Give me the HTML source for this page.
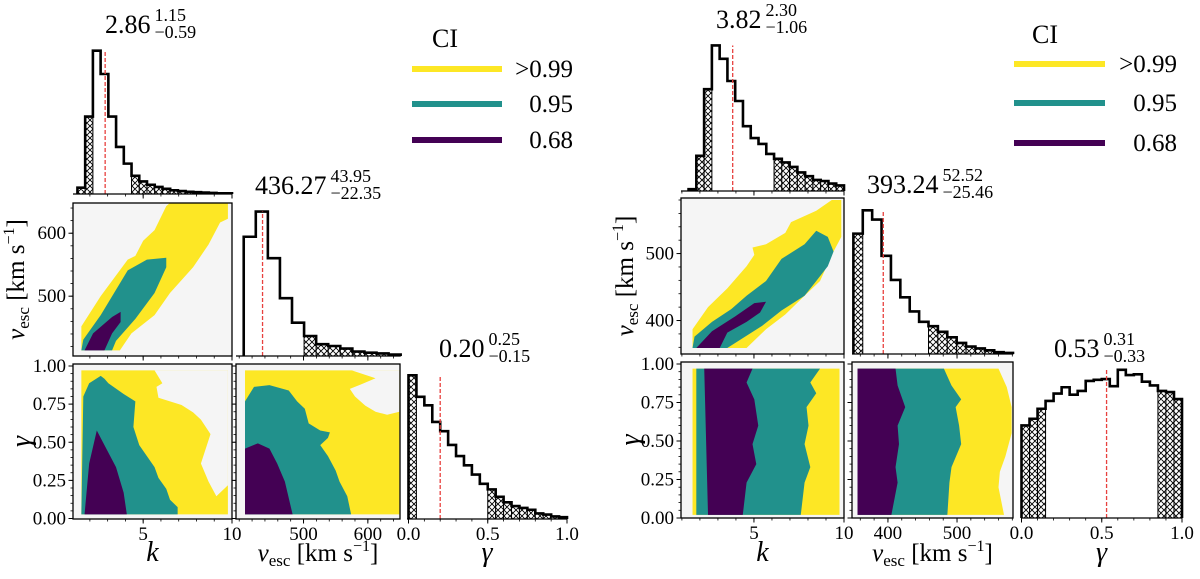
<!DOCTYPE html>
<html><head><meta charset="utf-8"><style>
html,body{margin:0;padding:0;background:#fff;width:1200px;height:579px;overflow:hidden}
svg{display:block}
svg text{font-family:"Liberation Serif","DejaVu Serif",serif}
</style></head><body>
<svg id="fig" width="1200" height="579" viewBox="0 0 1200 579" xmlns="http://www.w3.org/2000/svg" font-family="Liberation Serif, DejaVu Serif, serif">
<defs>
<pattern id="hatch" patternUnits="userSpaceOnUse" width="6" height="6">
<rect width="6" height="6" fill="#fff"/>
<path d="M0,0L6,6M6,0L0,6M-1,5L1,7M5,-1L7,1M-1,1L1,-1M5,7L7,5" stroke="#000" stroke-width="0.9"/>
</pattern>
</defs>
</svg>
<script>
// ---------- DATA ----------
const leftKCounts=[17,209,387,324,209,127,82,49,34,25,19,14,10,8,6,5,4,3,2,2];
const leftKRange=[1.3,10.0];
const leftKStats=[2.86,1.15,0.59];
const leftKHatch=[2.17,4.34];
const leftVCounts=[322,390,264,156,90,54,32,27,20,12,9,7,4];
const leftVRange=[407,651];
const leftVStats=[436.27,43.95,22.35];
const leftVHatch=[407,499];
const leftGCounts=[388,330,307,262,237,200,170,145,120,95,80,60,45,35,30,25,15,12,7,5];
const leftGRange=[0,1];
const leftGStats=[0.20,0.25,0.15];
const leftGHatch=[0.05,0.5];

const rightKCounts=[5,95,275,393,357,297,243,175,143,127,100,87,77,65,50,40,30,27,20,15];
const rightKRange=[1.37,10.0];
const rightKStats=[3.82,2.30,1.06];
const rightKHatch=[2.66,6.12];
const rightVCounts=[325,388,363,265,200,153,115,87,75,60,45,30,20,15,10,5,3];
const rightVRange=[350,581];
const rightVStats=[393.24,52.52,25.46];
const rightVHatch=[363.6,458.7];
const rightGCounts=[250,268,295,316,336,353,333,343,370,373,375,356,400,386,388,368,358,343,340,321];
const rightGRange=[0,1];
const rightGStats=[0.53,0.31,0.33];
const rightGHatch=[0.15,0.85];

// contour regions (data units)
const leftKVYellow=[[1.52,414],[1.52,452],[2.61,500],[4.13,558],[4.56,564],[5.0,588],[5.64,605],[6.3,643],[6.5,648],[9.77,648],[9.77,623],[9.33,617],[8.68,582],[7.81,546],[6.51,505],[5.64,470],[4.34,441],[3.69,414]];
const leftKVTeal=[[1.52,414],[1.63,431],[2.61,470],[4.13,541],[5.21,558],[6.3,561],[6.3,546],[5.64,505],[4.56,464],[3.47,429],[3.25,414]];
const leftKVPurple=[[1.70,414],[2.18,441],[3.25,467],[3.73,475],[3.73,459],[3.25,441],[2.82,414]];
const leftKGYellow=[[1.52,0.027],[1.52,0.971],[9.77,0.971],[9.77,0.027]];
const leftKGGray=[[5.64,0.971],[9.77,0.971],[9.77,0.218],[9.12,0.146],[8.68,0.242],[8.25,0.361],[8.79,0.553],[8.25,0.648],[7.81,0.696],[7.16,0.744],[6.51,0.768],[5.86,0.792],[5.75,0.863],[6.08,0.887]];
const leftKGTeal=[[1.52,0.027],[1.63,0.8],[1.96,0.887],[2.61,0.935],[2.82,0.916],[3.04,0.887],[3.9,0.816],[4.56,0.768],[4.45,0.6],[4.78,0.481],[5.21,0.409],[5.64,0.337],[5.86,0.266],[6.3,0.194],[6.51,0.123],[6.94,0.075],[6.94,0.027]];
const leftKGPurple=[[1.70,0.027],[1.96,0.361],[2.39,0.577],[2.82,0.481],[3.47,0.337],[3.9,0.17],[4.08,0.027]];
const leftVGYellow=[[409,0.027],[409,0.971],[649,0.971],[649,0.027]];
const leftVGGray=[[575,0.971],[649,0.971],[649,0.70],[630,0.68],[612,0.70],[596,0.74],[580,0.80],[572,0.85],[590,0.88],[612,0.92]];
const leftVGTeal=[[409,0.027],[409,0.768],[423,0.863],[447,0.875],[477,0.839],[490,0.768],[502,0.72],[508,0.624],[526,0.577],[541,0.565],[538,0.529],[526,0.481],[538,0.409],[550,0.314],[556,0.242],[568,0.146],[574,0.027]];
const leftVGPurple=[[409,0.027],[409,0.458],[429,0.493],[447,0.458],[459,0.361],[471,0.242],[483,0.027]];

const rightKVYellow=[[1.59,359],[1.59,387],[2.45,420],[3.52,448],[4.59,481],[5.02,498],[4.92,509],[5.67,514],[6.74,531],[7.06,547],[8.46,564],[9.32,580],[9.85,580],[9.85,525],[9.32,498],[8.67,459],[7.81,437],[6.74,409],[5.67,387],[4.59,359]];
const rightKVTeal=[[1.59,359],[1.7,376],[2.67,398],[3.74,417],[4.59,437],[5.67,459],[6.53,492],[7.81,514],[8.46,534],[9.1,525],[9.42,503],[9.1,481],[8.46,459],[7.81,437],[6.53,415],[5.45,392],[3.52,359]];
const rightKVPurple=[[1.8,359],[2.67,384],[3.95,406],[5.02,426],[5.67,428],[5.34,412],[4.59,398],[3.52,382],[3.1,359]];
const rightKGYellow=[[1.59,0.02],[1.59,0.97],[9.75,0.97],[9.75,0.02]];
const rightKGTeal=[[1.8,0.02],[1.8,0.97],[8.67,0.97],[8.13,0.88],[8.46,0.81],[7.92,0.72],[8.03,0.6],[7.81,0.48],[8.13,0.33],[7.81,0.23],[7.6,0.02]];
const rightKGPurple=[[2.45,0.02],[2.24,0.97],[4.92,0.97],[4.59,0.88],[5.02,0.77],[5.24,0.6],[4.92,0.48],[5.13,0.35],[4.59,0.23],[4.38,0.02]];
const rightVGYellow=[[356,0.02],[356,0.97],[560,0.97],[572,0.85],[579,0.72],[579,0.55],[570,0.40],[562,0.30],[560,0.2],[568,0.02]];
const rightVGTeal=[[356,0.02],[356,0.97],[481,0.97],[492,0.86],[506,0.77],[498,0.72],[503,0.6],[506,0.48],[492,0.33],[489,0.23],[486,0.02]];
const rightVGPurple=[[356,0.02],[356,0.97],[411,0.97],[414,0.86],[425,0.72],[414,0.6],[416,0.48],[411,0.33],[414,0.23],[405,0.02]];

const legendLabels=[">0.99","0.95","0.68"];
const kTicks=[5,10];
const leftVTicks=[500,600];
const rightVTicks=[400,500];
const gYTicks=["0.00","0.25","0.50","0.75","1.00"];
const gXTicks=["0.0","0.5","1.0"];

// ---------- DRAWING ----------
const NS="http://www.w3.org/2000/svg";
const svg=document.getElementById('fig');
const YEL="#fde725",TEAL="#21918c",PUR="#440154",BG="#f5f5f5";
const FF="Liberation Serif, DejaVu Serif, serif";
function mk(tag,attrs,parent){const e=document.createElementNS(NS,tag);for(const k in attrs)e.setAttribute(k,attrs[k]);if(tag==='text')e.setAttribute('font-family',FF);(parent||svg).appendChild(e);return e;}
function lin(d0,d1,r0,r1){return v=>r0+(v-d0)/(d1-d0)*(r1-r0);}

function histogram(g,counts,range,stats,hatch,xs,base,scaleDiv,name){
  const n=counts.length,w=(range[1]-range[0])/n;
  const y=c=>base-c/scaleDiv;
  counts.forEach((c,i)=>{
    const lo=range[0]+i*w,hi=lo+w,ctr=(lo+hi)/2;
    if(ctr<hatch[0]||ctr>hatch[1]){
      const r=mk('rect',{x:xs(lo),y:y(c),width:xs(hi)-xs(lo),height:base-y(c),fill:'url(#hatch)',stroke:'#000','stroke-width':1},g);
      
      
    }
  });
  let d='M'+xs(range[0])+','+base;
  counts.forEach((c,i)=>{const lo=range[0]+i*w,hi=lo+w;d+='L'+xs(lo)+','+y(c)+'L'+xs(hi)+','+y(c);});
  d+='L'+xs(range[1])+','+base;
  const p=mk('path',{d:d,fill:'none',stroke:'#000','stroke-width':2.6,'stroke-linejoin':'miter'},g);
  
  
  const mx=Math.max(...counts);
  const ml=mk('line',{x1:xs(stats[0]),x2:xs(stats[0]),y1:base,y2:y(mx),stroke:'#e8413e','stroke-width':1.3,'stroke-dasharray':'4,2'},g);
  
  
}
function poly(g,pts,xs,ys,fill,name){
  const p=mk('polygon',{points:pts.map(q=>xs(q[0])+','+ys(q[1])).join(' '),fill:fill},g);
  
  
}
function panelBox(g,x0,x1,y0,y1,name){
  const r=mk('rect',{x:x0,y:y0,width:x1-x0,height:y1-y0,fill:BG,stroke:'none'},g);
  
  
}
function frame(g,x0,x1,y0,y1){mk('rect',{x:x0,y:y0,width:x1-x0,height:y1-y0,fill:'none',stroke:'#000','stroke-width':1.3},g);}
function xTicks(g,xs,y,major,minorStep,d0,d1,labels,fs){
  for(let v=Math.ceil(d0/minorStep)*minorStep;v<=d1+1e-9;v+=minorStep){mk('line',{x1:xs(v),x2:xs(v),y1:y,y2:y+2.5,stroke:'#000','stroke-width':0.8},g);}
  major.forEach((v,i)=>{const val=+v;mk('line',{x1:xs(val),x2:xs(val),y1:y,y2:y+4.5,stroke:'#000','stroke-width':1},g);
    if(labels){const t=mk('text',{x:xs(val),y:y+21,'font-size':fs||19,'text-anchor':'middle'},g);t.textContent=String(v);
      
      }});
}
function yTicks(g,ys,x,major,minorStep,d0,d1,labels){
  for(let v=Math.ceil(d0/minorStep)*minorStep;v<=d1+1e-9;v+=minorStep){mk('line',{x1:x,x2:x-2.5,y1:ys(v),y2:ys(v),stroke:'#000','stroke-width':0.8},g);}
  major.forEach(v=>{const val=+v;mk('line',{x1:x,x2:x-4.5,y1:ys(val),y2:ys(val),stroke:'#000','stroke-width':1},g);
    if(labels){const t=mk('text',{x:x-7,y:ys(val)+6,'font-size':19,'text-anchor':'end'},g);t.textContent=String(v);
      
      }});
}
function title(g,x,yb,stats,dec,name){
  const t=mk('text',{x:x,y:yb,'font-size':26},g);t.textContent=stats[0].toFixed(dec);
  
  
  const w=t.getComputedTextLength?t.getComputedTextLength():60;
  const s=mk('text',{x:x+w+4,y:yb-12,'font-size':18},g);s.textContent=stats[1].toFixed(dec);
  
  
  const b=mk('text',{x:x+w+4,y:yb+5,'font-size':18},g);b.textContent='\u2212'+stats[2].toFixed(dec);
  
  
}
function vescLabel(g,x,y,rot,name){
  const t=mk('text',{x:x,y:y,'font-size':25,'text-anchor':'middle',transform:rot?'rotate(-90 '+x+' '+y+')':''},g);
  
  
  t.innerHTML='<tspan font-style="italic">v</tspan><tspan font-size="17" dy="5">esc</tspan><tspan dy="-5"> [km s</tspan><tspan font-size="16" dy="-10">\u22121</tspan><tspan dy="10">]</tspan>';
}
function simpleLabel(g,x,y,txt,rot,name){
  const t=mk('text',{x:x,y:y,'font-size':28,'font-style':'italic','text-anchor':'middle',transform:rot?'rotate(-90 '+x+' '+y+')':''},g);
  t.textContent=txt;
  
  
}
function legend(g,x0,x1,ys,ciX,ciY,labRight){
  const c=mk('text',{x:ciX,y:ciY,'font-size':26},g);c.textContent='CI';
  
  
  [YEL,TEAL,PUR].forEach((col,i)=>{
    const l=mk('line',{x1:x0,x2:x1,y1:ys[i],y2:ys[i],stroke:col,'stroke-width':6},g);
    
    
    const t=mk('text',{x:labRight,y:ys[i]+8,'font-size':25,'text-anchor':'end'},g);t.textContent=legendLabels[i];
    
    
  });
}

function corner(cfg){
  const g=mk('g',{},svg);
  
  
  const L=cfg.L;
  const kx=lin(L.kDom[0],L.kDom[1],L.c1[0],L.c1[1]);
  const vx=lin(L.vxDom[0],L.vxDom[1],L.c2[0],L.c2[1]);
  const gx=lin(0,1,L.g0x,L.g1x);
  const vy=lin(L.vyDom[0],L.vyDom[1],L.r2[1],L.r2[0]);
  const gy=lin(0,1,L.g0y,L.g1y);
  const h1=mk('g',{},g);
  histogram(h1,cfg.kC,cfg.kR,cfg.kS,cfg.kH,kx,L.hb1,2.7,'k-hist');
  mk('line',{x1:L.c1[0],x2:L.c1[1],y1:L.hb1,y2:L.hb1,stroke:'#000','stroke-width':1.3},h1);
  xTicks(h1,kx,L.hb1,kTicks,1,L.kDom[0],L.kDom[1],false);
  const p2=mk('g',{},g);
  panelBox(p2,L.c1[0],L.c1[1],L.r2[0],L.r2[1],'k-vesc');
  poly(p2,cfg.kvY,kx,vy,YEL,'ci-099-region');poly(p2,cfg.kvT,kx,vy,TEAL,'ci-095-region');poly(p2,cfg.kvP,kx,vy,PUR,'ci-068-region');
  frame(p2,L.c1[0],L.c1[1],L.r2[0],L.r2[1]);
  yTicks(p2,vy,L.c1[0],cfg.vT,20,L.vyDom[0],L.vyDom[1],true);
  xTicks(p2,kx,L.r2[1],kTicks,1,L.kDom[0],L.kDom[1],false);
  const h2=mk('g',{},g);
  histogram(h2,cfg.vC,cfg.vR,cfg.vS,cfg.vH,vx,L.r2[1],2.7,'vesc-hist');
  mk('line',{x1:L.c2[0],x2:L.c2[1],y1:L.r2[1],y2:L.r2[1],stroke:'#000','stroke-width':1.3},h2);
  xTicks(h2,vx,L.r2[1],cfg.vT,20,L.vxDom[0],L.vxDom[1],false);
  const p3=mk('g',{},g);
  panelBox(p3,L.c1[0],L.c1[1],L.r3[0],L.r3[1],'k-gamma');
  poly(p3,cfg.kgY,kx,gy,YEL,'ci-099-region');if(cfg.kgG)poly(p3,cfg.kgG,kx,gy,BG,'low-density-region');
  poly(p3,cfg.kgT,kx,gy,TEAL,'ci-095-region');poly(p3,cfg.kgP,kx,gy,PUR,'ci-068-region');
  frame(p3,L.c1[0],L.c1[1],L.r3[0],L.r3[1]);
  yTicks(p3,gy,L.c1[0],gYTicks,0.05,0,1,true);
  xTicks(p3,kx,L.r3[1],kTicks,1,L.kDom[0],L.kDom[1],true);
  const p4=mk('g',{},g);
  panelBox(p4,L.c2[0],L.c2[1],L.r3[0],L.r3[1],'vesc-gamma');
  poly(p4,cfg.vgY,vx,gy,YEL,'ci-099-region');if(cfg.vgG)poly(p4,cfg.vgG,vx,gy,BG,'low-density-region');
  poly(p4,cfg.vgT,vx,gy,TEAL,'ci-095-region');poly(p4,cfg.vgP,vx,gy,PUR,'ci-068-region');
  frame(p4,L.c2[0],L.c2[1],L.r3[0],L.r3[1]);
  yTicks(p4,gy,L.c2[0],gYTicks,0.05,0,1,false);
  xTicks(p4,vx,L.r3[1],cfg.vT,20,L.vxDom[0],L.vxDom[1],true);
  const h3=mk('g',{},g);
  histogram(h3,cfg.gC,cfg.gR,cfg.gS,cfg.gH,gx,L.r3[1],2.7,'gamma-hist');
  mk('line',{x1:L.c3[0],x2:L.c3[1],y1:L.r3[1],y2:L.r3[1],stroke:'#000','stroke-width':1.3},h3);
  xTicks(h3,gx,L.r3[1],gXTicks,0.1,0,1,true);
  title(g,L.t1[0],L.t1[1],cfg.kS,2,'k');
  title(g,L.t2[0],L.t2[1],cfg.vS,2,'vesc');
  title(g,L.t3[0],L.t3[1],cfg.gS,2,'gamma');
  simpleLabel(g,(L.c1[0]+L.c1[1])/2,561,'k',false,'x-axis-title-k');
  vescLabel(g,(L.c2[0]+L.c2[1])/2,561,false,'x-axis-title-vesc');
  simpleLabel(g,(L.c3[0]+L.c3[1])/2,561,'\u03b3',false,'x-axis-title-gamma');
  vescLabel(g,L.ylx,(L.r2[0]+L.r2[1])/2,true,'y-axis-title-vesc');
  simpleLabel(g,L.ylx+6,(L.r3[0]+L.r3[1])/2,'\u03b3',true,'y-axis-title-gamma');
  legend(g,L.lg[0],L.lg[1],L.lg[2],L.lg[3],L.lg[4],L.lg[5]);
}

corner({name:'left-corner-plot',
 L:{c1:[73,232],c2:[236,400],c3:[407,567],hb1:194,r2:[203,356],r3:[364,519],
    kDom:[1.05,10],vxDom:[395,650],vyDom:[405,648],g0x:408.5,g1x:567,g0y:518.5,g1y:366,
    t1:[105,33],t2:[255,194],t3:[439,357],ylx:24,lg:[412,502,[69,104,140],432,47,573]},
 kC:leftKCounts,kR:leftKRange,kS:leftKStats,kH:leftKHatch,
 vC:leftVCounts,vR:leftVRange,vS:leftVStats,vH:leftVHatch,vT:leftVTicks,
 gC:leftGCounts,gR:leftGRange,gS:leftGStats,gH:leftGHatch,
 kvY:leftKVYellow,kvT:leftKVTeal,kvP:leftKVPurple,
 kgY:leftKGYellow,kgG:leftKGGray,kgT:leftKGTeal,kgP:leftKGPurple,
 vgY:leftVGYellow,vgG:leftVGGray,vgT:leftVGTeal,vgP:leftVGPurple});

corner({name:'right-corner-plot',
 L:{c1:[681,844],c2:[852,1013],c3:[1021,1182],hb1:191,r2:[198,354],r3:[362,518],
    kDom:[0.95,10],vxDom:[348,581],vyDom:[350,583],g0x:1021.5,g1x:1182,g0y:518,g1y:364,
    t1:[716,28],t2:[867,193],t3:[1054,357],ylx:633,lg:[1014,1105,[64,103,143],1032,43,1177]},
 kC:rightKCounts,kR:rightKRange,kS:rightKStats,kH:rightKHatch,
 vC:rightVCounts,vR:rightVRange,vS:rightVStats,vH:rightVHatch,vT:rightVTicks,
 gC:rightGCounts,gR:rightGRange,gS:rightGStats,gH:rightGHatch,
 kvY:rightKVYellow,kvT:rightKVTeal,kvP:rightKVPurple,
 kgY:rightKGYellow,kgG:null,kgT:rightKGTeal,kgP:rightKGPurple,
 vgY:rightVGYellow,vgG:null,vgT:rightVGTeal,vgP:rightVGPurple});
</script>
</body></html>
